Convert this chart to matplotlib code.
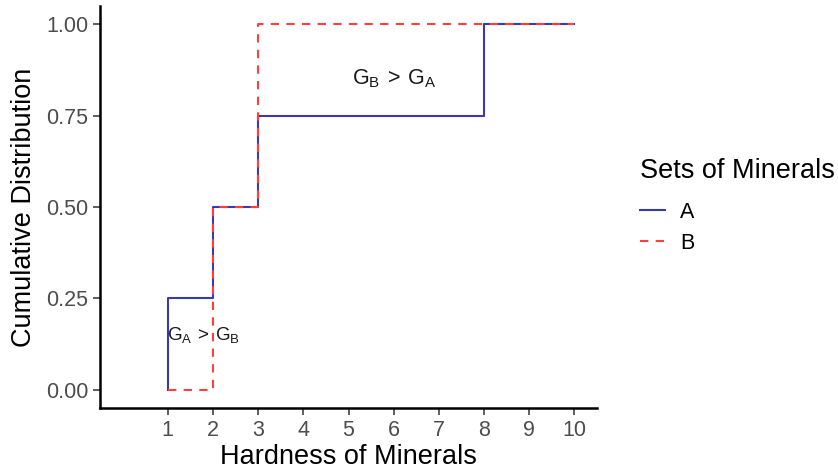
import matplotlib
matplotlib.use("Agg")
import matplotlib.pyplot as plt

plt.rcParams['font.family'] = ['Liberation Sans', 'DejaVu Sans']
plt.rcParams['mathtext.fontset'] = 'custom'
plt.rcParams['mathtext.rm'] = 'Liberation Sans'
plt.rcParams['mathtext.it'] = 'Liberation Sans'

# Step points of the empirical cumulative distributions
a_x = [1, 1, 2, 3, 8, 10]
a_y = [0, 0.25, 0.50, 0.75, 1.00, 1.00]
b_x = [1, 2, 3, 10]
b_y = [0, 0.50, 1.00, 1.00]
x_ticks = [1, 2, 3, 4, 5, 6, 7, 8, 9, 10]
y_ticks = [0.00, 0.25, 0.50, 0.75, 1.00]
y_tick_labels = ["0.00", "0.25", "0.50", "0.75", "1.00"]

blue = "#3a3aa8"
red = "#ff3e3e"

W, H = 838, 473
fig = plt.figure(figsize=(W/100, H/100), dpi=100)
ax = fig.add_axes([100/W, 1-408/H, 497/W, 402/H])

ax.step(a_x, a_y, where='post', color=blue, lw=1.5, label='A')
ax.step(b_x, b_y, where='post', color=red, lw=1.5, dashes=(4, 3.5), label='B')

ax.set_xlim(-0.5, 10.5)
ax.set_ylim(-0.05, 1.05)
ax.set_xticks(x_ticks)
ax.set_yticks(y_ticks)
ax.set_yticklabels(y_tick_labels)
ax.tick_params(axis='both', labelsize=15.5, labelcolor='#4d4d4d', color='#333333', length=5, width=1.1)
for s in ['top', 'right']:
    ax.spines[s].set_visible(False)
for s in ['left', 'bottom']:
    ax.spines[s].set_linewidth(1.8)
    ax.spines[s].set_color('black')

ax.set_xlabel("Hardness of Minerals", fontsize=19.5, labelpad=2)
ax.set_ylabel("Cumulative Distribution", fontsize=19.5, labelpad=6)

ax.text(6, 0.85, r'$\mathregular{G_B\:>\:G_A}$', fontsize=15.5, ha='center', va='center', color='#1a1a1a')
ax.text(1.8, 0.15, r'$\mathregular{G_A\:>\:G_B}$', fontsize=13.5, ha='center', va='center', color='#1a1a1a')

fig.text(640/W, 1-171/H, "Sets of Minerals", fontsize=19.5, ha='left', va='center', color='black')
leg = fig.legend(loc='upper left', bbox_to_anchor=(640/W, 1-202/H), frameon=False, borderpad=0,
                 borderaxespad=0, fontsize=15.5,
                 handlelength=1.15, handletextpad=0.7, labelspacing=0.45)

fig.savefig("out.png", dpi=100)
